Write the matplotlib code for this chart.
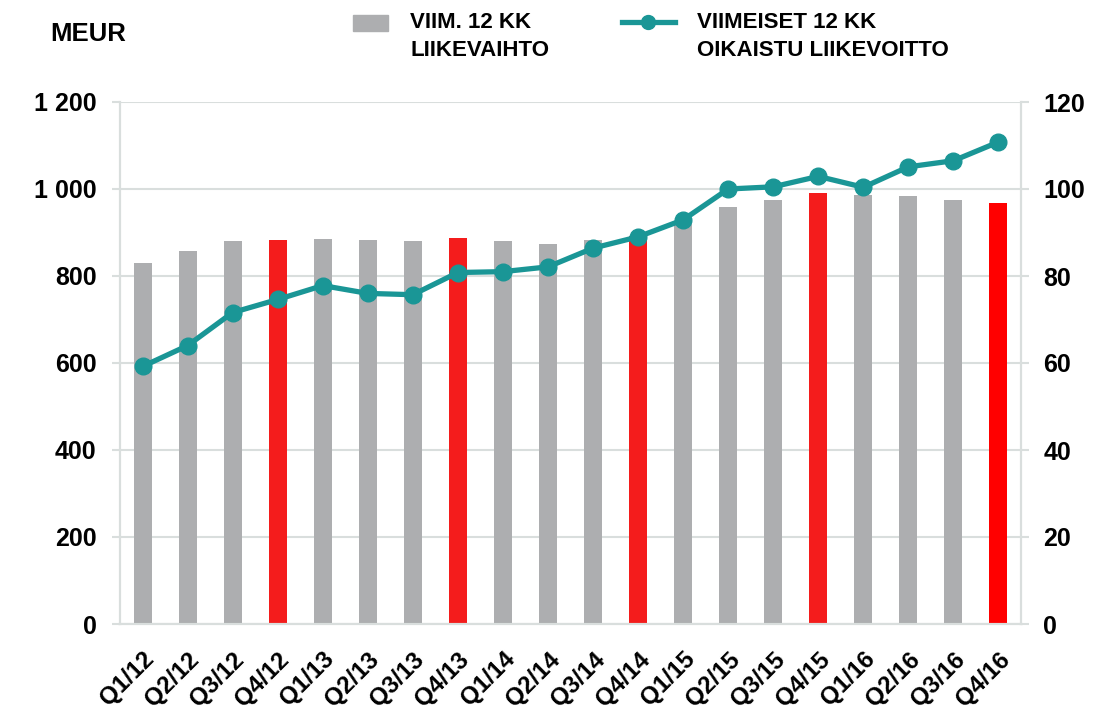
import matplotlib
matplotlib.use("Agg")
import matplotlib.pyplot as plt
from matplotlib.patches import Rectangle
from matplotlib.lines import Line2D
from matplotlib.ticker import FuncFormatter

quarters = ["Q1/12", "Q2/12", "Q3/12", "Q4/12", "Q1/13", "Q2/13", "Q3/13", "Q4/13",
            "Q1/14", "Q2/14", "Q3/14", "Q4/14", "Q1/15", "Q2/15", "Q3/15", "Q4/15",
            "Q1/16", "Q2/16", "Q3/16", "Q4/16"]
revenue = [830, 858, 881, 883, 886, 883, 881, 888, 881, 874, 883, 893,
           922, 959, 975, 991, 987, 984, 975, 968]
adj_ebit = [59.2, 64.0, 71.6, 74.6, 77.8, 76.0, 75.7, 80.8, 81.0, 82.1, 86.4, 89.0,
            92.9, 100.0, 100.5, 102.9, 100.4, 105.1, 106.5, 110.8]
left_ticks = [0, 200, 400, 600, 800, 1000, 1200]
right_ticks = [0, 20, 40, 60, 80, 100, 120]
legend_bar = ["VIIM. 12 KK", "LIIKEVAIHTO"]
legend_line = ["VIIMEISET 12 KK", "OIKAISTU LIIKEVOITTO"]
unit_label = "MEUR"

GRAY = "#ADAEB0"
RED = "#F41C1C"
RED_LAST = "#FF0000"
TEAL = "#1A9696"
GRID = "#D9DEDD"

plt.rcParams["font.family"] = ["Liberation Sans", "DejaVu Sans"]

W, H = 1099, 718
fig = plt.figure(figsize=(W/100, H/100), dpi=100)
ax = fig.add_axes([120/W, 1-624/H, (1021-120)/W, (624-102)/H])
ax2 = ax.twinx()

x = list(range(len(quarters)))
colors = []
for i, q in enumerate(quarters):
    if q.startswith("Q4"):
        colors.append(RED_LAST if i == len(quarters)-1 else RED)
    else:
        colors.append(GRAY)

ax.bar(x, revenue, width=0.4, color=colors, zorder=2)
ax.set_xlim(-0.5, len(quarters)-0.5)
ax.set_ylim(0, 1200)
ax.set_yticks(left_ticks)
ax.yaxis.set_major_formatter(FuncFormatter(lambda v, p: f"{int(v):,}".replace(",", " ")))
ax.grid(axis="y", color=GRID, linewidth=1.5, zorder=0)
ax.set_axisbelow(True)

ax2.plot(x, adj_ebit, color=TEAL, linewidth=3.8, marker="o", markersize=12, zorder=3)
ax2.set_ylim(0, 120)
ax2.set_yticks(right_ticks)

for a in (ax, ax2):
    a.spines["top"].set_visible(False)
    for s in ("left", "right", "bottom"):
        a.spines[s].set_color(GRID)
        a.spines[s].set_linewidth(1.5)
    a.tick_params(axis="y", length=6, width=1.5, color=GRID, labelsize=18)
    for lab in a.get_yticklabels():
        lab.set_fontweight("bold")
ax.tick_params(axis="y", pad=11)
ax2.tick_params(axis="y", pad=10)

ax.set_xticks(x)
ax.set_xticklabels(quarters, rotation=45, ha="right", va="top", rotation_mode="anchor",
                   fontsize=17.5, fontweight="bold")
ax.tick_params(axis="x", length=0, pad=17)

# unit label and legend
fig.text(50/W, 1-34/H, unit_label, fontsize=18.5, fontweight="bold", va="center")
fig.patches.append(Rectangle((353/W, 1-31/H), 35/W, 16/H,
                             transform=fig.transFigure, color=GRAY))
fig.text(410/W, 1-23/H, legend_bar[0], fontsize=16, fontweight="bold", va="center")
fig.text(410/W, 1-50/H, legend_bar[1], fontsize=16, fontweight="bold", va="center")
fig.lines.append(Line2D([622/W, 675/W], [1-22/H, 1-22/H],
                        transform=fig.transFigure, color=TEAL, linewidth=3.8))
fig.lines.append(Line2D([648/W], [1-22/H], transform=fig.transFigure,
                        color=TEAL, marker="o", markersize=10, linestyle="none"))
fig.text(697/W, 1-23/H, legend_line[0], fontsize=16, fontweight="bold", va="center")
fig.text(697/W, 1-50/H, legend_line[1], fontsize=16, fontweight="bold", va="center")

fig.savefig("out.png", dpi=100)
